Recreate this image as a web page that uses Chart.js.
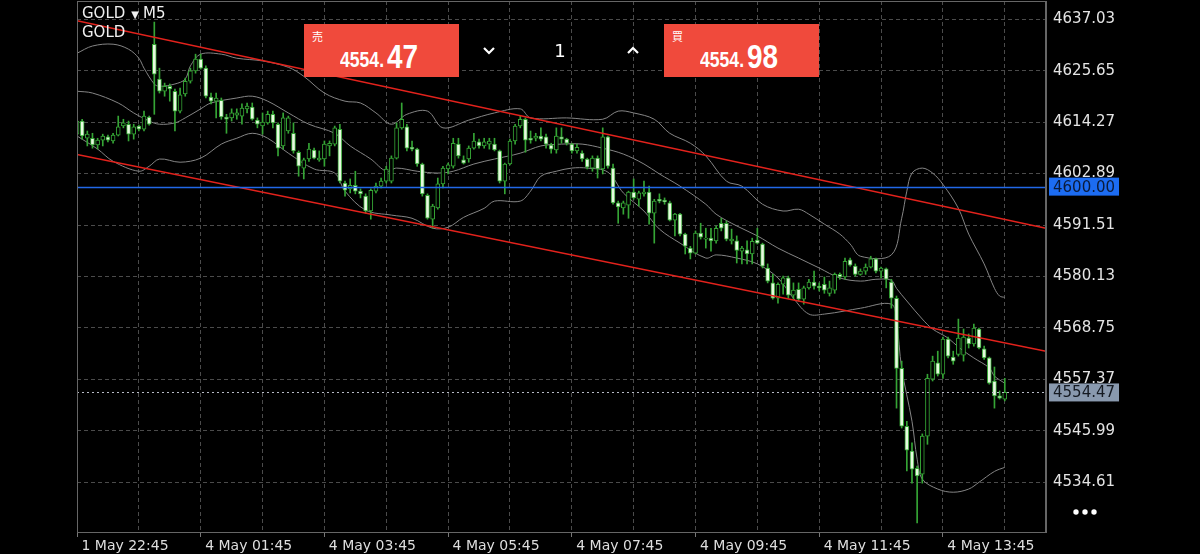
<!DOCTYPE html>
<html>
<head>
<meta charset="utf-8">
<script src="https://cdn.jsdelivr.net/npm/chart.js@4.4.1/dist/chart.umd.min.js"></script>
<style>
  body { margin: 0; background: #000; }
  #wrap { position: relative; width: 1200px; height: 554px; overflow: hidden; background: #000; color: #fff; font-family: "DejaVu Sans", sans-serif; }
  #chart { position: absolute; left: 0; top: 0; }
  .sym { position: absolute; left: 82px; font-size: 15px; line-height: 15px; color: #f0f0f0; white-space: nowrap; }
  .sym .tri { font-size: 10px; margin: 0 4px 0 6px; }
  .box { position: absolute; top: 24px; width: 155px; height: 53px; background: #f04a3c; }
  .box .kind { position: absolute; left: 8px; top: 7px; font: 11px/11px "Noto Sans CJK JP", sans-serif; color: #fff; }
  .box .small { position: absolute; left: 36px; top: 25px; font: bold 22px/22px "Liberation Sans", sans-serif; transform: scaleX(0.8); transform-origin: left; }
  .box .big { position: absolute; left: 83px; top: 15px; font: bold 34px/34px "Liberation Sans", sans-serif; transform: scaleX(0.82); transform-origin: left; }
  .lot { position: absolute; left: 560px; top: 42px; transform: translateX(-50%); font-size: 18px; line-height: 18px; color: #fff; }
  svg { position: absolute; overflow: visible; }
</style>
</head>
<body>
<div id="wrap">
  <canvas id="chart" width="1200" height="554"></canvas>
  <div class="sym" style="top:6px">GOLD<span class="tri">▼</span>M5</div>
  <div class="sym" style="top:25px">GOLD</div>
  <div class="box" style="left:304px"><span class="kind">売</span><span class="small">4554.</span><span class="big">47</span></div>
  <div class="box" style="left:664px"><span class="kind">買</span><span class="small">4554.</span><span class="big">98</span></div>
  <svg style="left:483px;top:47px" width="12" height="7"><polyline points="1,1 6,6 11,1" fill="none" stroke="#fff" stroke-width="2.2"/></svg>
  <div class="lot">1</div>
  <svg style="left:627px;top:47px" width="12" height="7"><polyline points="1,6 6,1 11,6" fill="none" stroke="#fff" stroke-width="2.2"/></svg>
  <svg style="left:1072px;top:508px" width="28" height="8"><circle cx="4" cy="4" r="2.7" fill="#fff"/><circle cx="13" cy="4" r="2.7" fill="#fff"/><circle cx="22" cy="4" r="2.7" fill="#fff"/></svg>
</div>
<script>
// GOLD M5 candles, index 0 = 1 May 22:45
const opens = [
  4611.6, 4614.5, 4610.7, 4610.7, 4609.2, 4610.3, 4611.0, 4610.1, 4611.4, 4613.4,
  4613.8, 4611.6, 4613.4, 4612.7, 4615.4, 4631.5, 4623.8, 4621.1, 4622.2, 4621.1,
  4616.7, 4620.5, 4623.3, 4625.6, 4628.2, 4626.2, 4619.8, 4618.9, 4619.1, 4615.4,
  4615.2, 4615.8, 4615.6, 4617.2, 4617.6, 4614.7, 4613.4, 4614.1, 4616.0, 4613.8,
  4609.0, 4612.3, 4611.8, 4607.6, 4604.1, 4606.1, 4608.1, 4605.9, 4606.1, 4609.0,
  4609.4, 4612.7, 4600.8, 4599.5, 4600.3, 4599.0, 4597.9, 4594.6, 4599.0, 4600.1,
  4601.2, 4601.2, 4606.3, 4613.0, 4613.2, 4608.7, 4608.3, 4605.0, 4598.1, 4592.8,
  4595.3, 4600.6, 4603.9, 4604.5, 4609.4, 4605.9, 4606.1, 4608.5, 4609.9, 4609.0,
  4609.4, 4609.4, 4607.9, 4601.2, 4605.0, 4610.1, 4613.4, 4614.9, 4610.7, 4610.7,
  4611.2, 4611.0, 4609.2, 4608.1, 4611.0, 4610.5, 4609.4, 4607.9, 4607.4, 4606.1,
  4604.1, 4606.3, 4603.9, 4611.0, 4604.1, 4596.4, 4595.3, 4595.9, 4598.8, 4597.2,
  4598.4, 4598.8, 4594.1, 4597.2, 4597.0, 4596.4, 4592.6, 4593.9, 4589.5, 4586.4,
  4585.3, 4589.7, 4588.4, 4588.6, 4588.0, 4591.9, 4591.9, 4588.0, 4588.0, 4585.7,
  4586.0, 4585.1, 4588.2, 4587.3, 4582.0, 4578.7, 4575.3, 4578.4, 4579.8, 4576.0,
  4577.3, 4575.1, 4577.6, 4578.9, 4578.0, 4578.4, 4576.4, 4577.1, 4580.6, 4580.0,
  4583.8, 4582.4, 4580.6, 4581.3, 4582.2, 4584.0, 4581.3, 4581.8, 4578.9, 4575.3,
  4559.8, 4547.0, 4541.5, 4537.7, 4536.4, 4544.8, 4557.4, 4561.0, 4558.5, 4566.3,
  4562.3, 4562.9, 4562.7, 4566.5, 4565.2, 4568.5, 4564.1, 4562.1, 4557.0, 4553.7,
  4553.0
];
const highs = [
  4614.9, 4614.9, 4612.3, 4611.8, 4610.7, 4611.6, 4611.4, 4611.8, 4615.6, 4614.9,
  4614.5, 4613.8, 4613.6, 4616.7, 4615.6, 4636.4, 4626.2, 4622.9, 4622.7, 4621.6,
  4621.8, 4624.0, 4626.2, 4629.3, 4629.3, 4626.7, 4620.7, 4620.7, 4619.6, 4616.0,
  4617.2, 4617.2, 4618.3, 4618.5, 4618.5, 4615.2, 4616.3, 4616.7, 4616.7, 4614.1,
  4616.3, 4615.6, 4614.1, 4607.9, 4606.3, 4609.6, 4608.5, 4607.9, 4610.1, 4610.1,
  4613.4, 4613.8, 4601.2, 4601.7, 4603.4, 4599.5, 4598.4, 4599.5, 4600.8, 4601.9,
  4604.5, 4606.8, 4614.1, 4618.5, 4613.8, 4610.1, 4608.5, 4605.2, 4598.4, 4596.1,
  4601.9, 4604.5, 4605.2, 4610.7, 4610.7, 4606.8, 4609.0, 4611.8, 4610.5, 4610.7,
  4610.7, 4610.7, 4608.1, 4605.2, 4610.5, 4613.8, 4615.6, 4615.2, 4612.3, 4611.8,
  4613.0, 4611.6, 4609.6, 4613.0, 4613.0, 4610.7, 4609.6, 4609.4, 4607.9, 4606.3,
  4606.8, 4606.8, 4613.0, 4611.2, 4605.0, 4596.8, 4596.8, 4599.0, 4601.7, 4599.0,
  4601.2, 4600.1, 4597.2, 4598.4, 4597.5, 4596.8, 4594.1, 4594.1, 4589.7, 4586.8,
  4590.2, 4591.9, 4590.8, 4590.8, 4591.3, 4593.0, 4592.4, 4590.6, 4589.1, 4586.8,
  4588.0, 4588.6, 4590.8, 4587.5, 4582.9, 4580.6, 4578.7, 4580.2, 4580.2, 4578.7,
  4578.7, 4578.0, 4579.5, 4581.3, 4578.7, 4580.0, 4579.1, 4580.9, 4580.9, 4584.2,
  4584.2, 4582.9, 4581.8, 4582.9, 4584.6, 4584.2, 4582.2, 4582.0, 4579.5, 4575.8,
  4561.4, 4548.1, 4543.3, 4538.2, 4545.3, 4558.5, 4562.5, 4563.6, 4566.7, 4566.7,
  4563.6, 4570.7, 4568.5, 4567.4, 4569.6, 4568.7, 4564.7, 4562.3, 4560.1, 4554.8,
  4557.6
];
const lows = [
  4610.7, 4610.5, 4609.0, 4608.5, 4608.3, 4609.0, 4609.9, 4609.6, 4611.2, 4613.0,
  4610.1, 4610.5, 4612.3, 4612.3, 4613.6, 4616.0, 4620.7, 4620.0, 4618.9, 4612.3,
  4616.3, 4620.0, 4622.9, 4625.1, 4626.0, 4619.6, 4618.3, 4615.2, 4614.9, 4611.8,
  4614.5, 4614.9, 4613.8, 4616.3, 4614.7, 4613.0, 4611.6, 4613.8, 4613.0, 4606.8,
  4608.3, 4611.8, 4607.4, 4602.3, 4601.7, 4605.6, 4606.1, 4605.6, 4604.5, 4606.8,
  4609.0, 4600.8, 4597.9, 4598.6, 4598.4, 4597.5, 4594.1, 4592.8, 4598.6, 4599.7,
  4600.8, 4600.8, 4606.1, 4612.7, 4607.9, 4607.9, 4604.5, 4597.9, 4592.8, 4590.8,
  4595.0, 4599.7, 4602.8, 4604.1, 4606.3, 4605.0, 4605.4, 4608.3, 4608.5, 4608.5,
  4608.3, 4607.9, 4600.8, 4598.4, 4604.8, 4609.4, 4613.0, 4607.6, 4609.6, 4610.1,
  4610.1, 4608.5, 4607.4, 4607.4, 4609.6, 4609.2, 4607.4, 4607.4, 4605.6, 4603.9,
  4603.4, 4601.9, 4602.8, 4604.1, 4596.1, 4591.9, 4593.9, 4593.0, 4597.2, 4595.7,
  4597.9, 4591.7, 4587.5, 4596.4, 4596.1, 4592.4, 4589.1, 4589.1, 4585.1, 4584.0,
  4585.1, 4588.4, 4586.4, 4585.7, 4587.5, 4590.2, 4588.0, 4587.3, 4583.1, 4582.9,
  4582.9, 4582.9, 4587.3, 4582.0, 4578.7, 4575.1, 4574.2, 4576.2, 4575.3, 4575.1,
  4574.7, 4574.0, 4577.3, 4577.3, 4576.9, 4576.4, 4575.8, 4576.4, 4579.5, 4579.5,
  4582.4, 4580.2, 4580.4, 4580.6, 4582.0, 4580.9, 4579.8, 4577.6, 4573.1, 4551.0,
  4546.6, 4537.1, 4534.4, 4525.6, 4534.4, 4543.0, 4557.0, 4558.1, 4557.6, 4562.1,
  4560.7, 4562.5, 4561.4, 4564.3, 4564.7, 4564.1, 4561.8, 4556.3, 4551.0, 4553.0,
  4552.6
];
const closes = [
  4614.5, 4611.2, 4611.6, 4609.2, 4610.3, 4611.2, 4610.3, 4611.4, 4613.2, 4614.1,
  4611.6, 4613.2, 4612.7, 4615.6, 4613.8, 4624.9, 4621.1, 4622.2, 4621.6, 4616.7,
  4620.3, 4623.3, 4625.6, 4628.2, 4626.2, 4620.0, 4618.9, 4619.6, 4615.4, 4614.9,
  4616.3, 4616.3, 4617.4, 4617.8, 4614.9, 4613.8, 4614.3, 4616.0, 4614.1, 4608.5,
  4615.2, 4615.2, 4607.9, 4604.5, 4605.9, 4608.3, 4606.3, 4606.3, 4609.4, 4609.6,
  4613.0, 4601.2, 4599.2, 4600.3, 4599.0, 4598.4, 4594.6, 4599.2, 4600.1, 4601.2,
  4603.9, 4606.3, 4613.0, 4614.9, 4608.5, 4608.3, 4605.0, 4598.4, 4593.0, 4595.7,
  4600.6, 4604.1, 4604.8, 4609.6, 4606.8, 4605.2, 4608.5, 4610.1, 4609.0, 4609.9,
  4610.1, 4608.1, 4601.2, 4605.0, 4610.1, 4613.4, 4614.9, 4610.3, 4610.3, 4611.2,
  4610.5, 4609.4, 4608.3, 4611.2, 4610.5, 4609.6, 4607.9, 4608.7, 4606.1, 4604.3,
  4606.3, 4603.9, 4611.0, 4604.5, 4596.4, 4595.5, 4596.4, 4598.8, 4597.5, 4598.6,
  4598.8, 4594.1, 4596.8, 4596.8, 4596.6, 4592.6, 4593.9, 4589.5, 4586.8, 4585.3,
  4589.7, 4588.8, 4588.6, 4588.0, 4590.8, 4590.8, 4588.4, 4588.4, 4585.9, 4586.4,
  4585.1, 4587.9, 4587.5, 4582.4, 4579.1, 4575.3, 4578.4, 4579.8, 4576.0, 4577.1,
  4575.1, 4577.6, 4578.9, 4578.0, 4577.6, 4577.1, 4577.6, 4580.6, 4580.0, 4583.5,
  4582.6, 4580.6, 4581.3, 4582.2, 4584.0, 4581.3, 4582.0, 4579.5, 4575.3, 4559.8,
  4547.0, 4541.7, 4537.5, 4536.0, 4544.8, 4557.6, 4561.4, 4558.5, 4566.3, 4562.5,
  4561.4, 4566.5, 4566.7, 4565.2, 4568.7, 4564.3, 4562.1, 4556.5, 4553.7, 4553.2,
  4554.5
];

// Bollinger bands, [candle index, price]
const bandUpper = [
  [0, 4629.5], [3, 4631.1], [7, 4631.5], [10, 4630.4], [12, 4628.4], [13, 4626.2], [15, 4622.7],
  [16, 4622.2], [19, 4622.7], [21, 4623.8], [22, 4626.7], [24, 4629.3], [28, 4629.3], [31, 4628.4],
  [36, 4627.8], [41, 4626.4], [44, 4624.4], [48, 4620.7], [52, 4618.9], [55, 4618.5], [58, 4616.3],
  [61, 4613.8], [64, 4616.0], [68, 4616.7], [71, 4613.0], [76, 4614.7], [81, 4616.3], [86, 4617.2],
  [88, 4615.2], [95, 4615.2], [102, 4614.9], [105, 4616.7], [108, 4616.3], [112, 4614.9], [115, 4611.8],
  [119, 4609.6], [122, 4606.8], [126, 4601.2], [129, 4600.1], [133, 4596.1], [137, 4594.6], [140, 4595.0],
  [142, 4593.9], [145, 4591.7], [148, 4589.5], [150, 4587.3], [152, 4584.6], [158, 4584.9], [160, 4593.0],
  [161, 4599.0], [162, 4603.0], [164, 4604.1], [166, 4603.0], [168, 4600.5], [171, 4595.2], [173, 4589.5],
  [176, 4582.9], [178, 4577.5], [179, 4575.8], [180, 4575.5]
];
const bandMiddle = [
  [0, 4621.1], [3, 4620.7], [8, 4618.5], [11, 4616.3], [14, 4614.5], [16, 4613.8], [19, 4614.1],
  [21, 4615.2], [24, 4617.2], [26, 4618.5], [31, 4619.6], [34, 4620.0], [37, 4618.9], [41, 4616.3],
  [45, 4613.8], [50, 4611.8], [53, 4609.0], [57, 4606.1], [60, 4603.4], [62, 4604.1], [66, 4603.4],
  [70, 4603.0], [73, 4603.4], [77, 4605.0], [81, 4606.1], [86, 4607.4], [90, 4609.0], [94, 4609.4],
  [98, 4609.4], [102, 4608.5], [106, 4607.2], [110, 4605.0], [113, 4602.8], [117, 4600.1], [122, 4596.1],
  [124, 4593.9], [128, 4591.3], [132, 4589.1], [136, 4586.4], [140, 4584.2], [144, 4582.0], [148, 4579.8],
  [152, 4579.1], [155, 4579.5], [158, 4579.3], [159, 4577.5], [161, 4574.7], [164, 4570.7], [166, 4568.5],
  [169, 4566.5], [171, 4564.5], [174, 4562.1], [177, 4559.9], [178, 4558.1], [180, 4556.5]
];
const bandLower = [
  [0, 4611.2], [4, 4608.3], [7, 4605.6], [12, 4603.4], [14, 4604.5], [16, 4606.1], [20, 4605.4],
  [24, 4606.3], [28, 4609.4], [31, 4610.7], [34, 4611.8], [37, 4610.7], [41, 4607.4], [46, 4603.9],
  [50, 4603.0], [52, 4599.0], [56, 4594.8], [61, 4593.7], [65, 4593.0], [69, 4590.8], [72, 4591.0],
  [75, 4593.2], [79, 4595.2], [81, 4596.8], [86, 4596.8], [88, 4599.0], [90, 4602.3], [93, 4603.4],
  [96, 4604.1], [99, 4604.1], [103, 4603.2], [106, 4598.6], [110, 4594.6], [113, 4590.6], [117, 4587.5],
  [122, 4584.2], [124, 4584.9], [128, 4584.2], [132, 4582.9], [136, 4579.8], [139, 4575.3], [142, 4571.8],
  [145, 4571.8], [149, 4572.5], [152, 4573.1], [158, 4574.0], [159, 4570.2], [160, 4559.8], [162, 4548.1],
  [163, 4539.7], [164, 4535.3], [167, 4533.1], [170, 4532.4], [173, 4533.1], [175, 4534.6], [178, 4537.0],
  [180, 4537.9]
];

// red channel drawn on the chart
const channelTop = [[0, 4636.7], [188, 4590.8]];
const channelBottom = [[0, 4607.1], [188, 4563.6]];

const yTicks = [4637.03, 4625.65, 4614.27, 4602.89, 4591.51, 4580.13, 4568.75, 4557.37, 4545.99, 4534.61];
const xTickLabels = ['1 May 22:45', '4 May 01:45', '4 May 03:45', '4 May 05:45', '4 May 07:45', '4 May 09:45', '4 May 11:45', '4 May 13:45'];
const priceLine = 4600.00;
const bidPrice = 4554.47;

const green = '#35a535';
const toPts = arr => arr.map(p => ({ x: p[0], y: p[1] }));

const wicks = highs.map((h, i) => ({ x: i, y: [lows[i], h] }));
const bodies = opens.map((o, i) => ({ x: i, y: [o, closes[i]] }));
const bodyFill = opens.map((o, i) => closes[i] >= o ? '#000000' : '#e6fadf');

const bandStyle = { type: 'line', borderColor: '#858585', borderWidth: 1, pointRadius: 0, tension: 0.35, order: 4 };
const redStyle = { type: 'line', borderColor: '#e3221c', borderWidth: 1.5, pointRadius: 0, order: 1 };

const overlay = {
  id: 'overlay',
  afterDatasetsDraw(chart) {
    const { ctx, chartArea: a, scales: { y } } = chart;
    ctx.save();
    const py = Math.round(y.getPixelForValue(priceLine)) + 0.5;
    ctx.strokeStyle = '#2168e8';
    ctx.lineWidth = 1.5;
    ctx.beginPath(); ctx.moveTo(a.left, py); ctx.lineTo(a.right, py); ctx.stroke();

    const by = Math.round(y.getPixelForValue(bidPrice)) + 0.5;
    ctx.strokeStyle = '#b8bcc8';
    ctx.lineWidth = 1;
    ctx.setLineDash([2, 3]);
    ctx.beginPath(); ctx.moveTo(a.left, by); ctx.lineTo(a.right, by); ctx.stroke();
    ctx.restore();
  },
  afterDraw(chart) {
    const { ctx, chartArea: a, scales: { y } } = chart;
    ctx.save();
    // frame round the plot
    ctx.strokeStyle = '#666';
    ctx.lineWidth = 1;
    ctx.strokeRect(a.left + 0.5, a.top + 0.5, a.right - a.left - 1, a.bottom - a.top);

    const tag = (val, bg, fg) => {
      const yy = y.getPixelForValue(val);
      ctx.font = '15px "DejaVu Sans"';
      const w = ctx.measureText(val.toFixed(2)).width + 8;
      ctx.fillStyle = bg;
      ctx.fillRect(a.right + 3, yy - 9, w, 18);
      ctx.fillStyle = fg;
      ctx.textBaseline = 'middle';
      ctx.textAlign = 'left';
      ctx.fillText(val.toFixed(2), a.right + 7, yy + 1);
    };
    tag(priceLine, '#1c6cf2', '#0b1b3a');
    tag(bidPrice, '#8999ae', '#151a22');
    ctx.restore();
  }
};

new Chart(document.getElementById('chart'), {
  type: 'bar',
  data: {
    datasets: [
      { ...bandStyle, data: toPts(bandUpper) },
      { ...bandStyle, data: toPts(bandMiddle) },
      { ...bandStyle, data: toPts(bandLower) },
      { data: wicks, backgroundColor: green, barThickness: 1, grouped: false, order: 3 },
      { data: bodies, backgroundColor: bodyFill, borderColor: green, borderWidth: 1, borderSkipped: false,
        barThickness: 4, minBarLength: 1, grouped: false, order: 2 },
      { ...redStyle, data: toPts(channelTop) },
      { ...redStyle, data: toPts(channelBottom) }
    ]
  },
  options: {
    responsive: false,
    animation: false,
    devicePixelRatio: 1,
    layout: { padding: { left: 77, top: 1, right: 0, bottom: 0 } },
    plugins: { legend: { display: false }, tooltip: { enabled: false } },
    scales: {
      x: {
        type: 'linear', min: 0, max: 188, offset: false,
        afterBuildTicks: s => { s.ticks = []; for (let v = 0; v <= 180; v += 12) s.ticks.push({ value: v }); },
        afterFit: s => { s.height = 22; s.paddingLeft = 0; s.paddingRight = 0; },
        grid: {
          offset: false,
          color: '#4b4b4b',
          tickLength: 5,
          tickColor: c => (c.tick && c.tick.value % 24 === 0) ? '#777' : 'rgba(0,0,0,0)'
        },
        border: { display: true, color: '#666', dash: [4, 3] },
        ticks: {
          color: '#dedede', font: { family: 'DejaVu Sans', size: 14 }, padding: 1,
          align: 'start', maxRotation: 0, autoSkip: false,
          callback: v => v % 24 === 0 ? ' ' + xTickLabels[v / 24] : ''
        }
      },
      y: {
        position: 'right', min: 4523.6, max: 4641.06,
        afterBuildTicks: s => { s.ticks = yTicks.map(v => ({ value: v })); },
        afterFit: s => { s.width = 154; s.paddingTop = 0; s.paddingBottom = 0; },
        grid: { color: '#4b4b4b', drawTicks: false },
        border: { display: true, color: '#666', dash: [4, 3] },
        ticks: { color: '#e4e4e4', font: { family: 'DejaVu Sans', size: 15 }, padding: 7, callback: v => v.toFixed(2) }
      }
    }
  },
  plugins: [overlay]
});
</script>
</body>
</html>
